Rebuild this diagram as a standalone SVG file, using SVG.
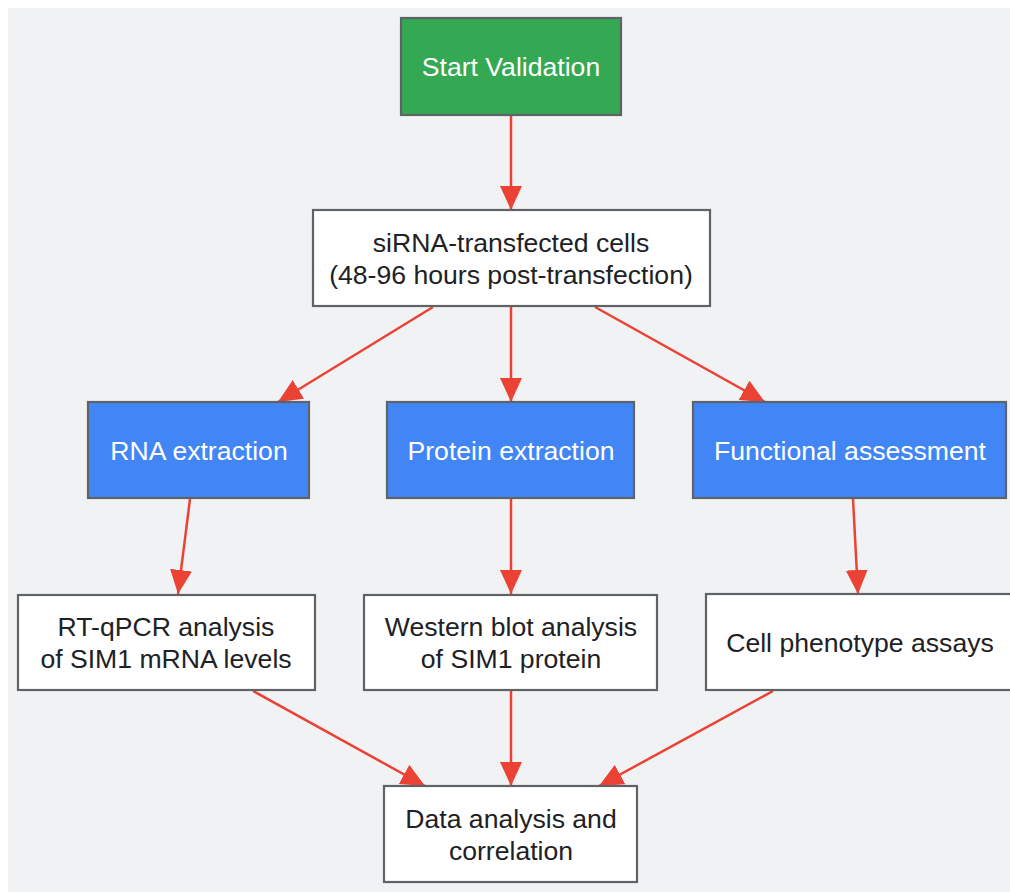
<svg xmlns="http://www.w3.org/2000/svg" width="1010" height="892" viewBox="0 0 1010 892">
<defs>
<style>
.bg{fill:#f1f2f4}
.node rect{stroke:#5f6368;stroke-width:2.2}
.green{fill:#34a853}
.blue{fill:#4285f4}
.white{fill:#ffffff}
text{font-family:"Liberation Sans",Arial,sans-serif;font-size:26.6px;text-anchor:middle}
.lt{fill:#ffffff}
.dk{fill:#202124}
.edge{stroke:#ea4335;stroke-width:2.5;fill:none;marker-end:url(#ah)}
</style>
<marker id="ah" markerUnits="userSpaceOnUse" markerWidth="24" markerHeight="22" refX="24" refY="11" orient="auto" viewBox="0 0 24 22">
<path d="M0,0 L24,11 L0,22 z" fill="#ea4335"/>
</marker>
</defs>
<rect x="0" y="0" width="1010" height="892" fill="#ffffff"/>
<rect class="bg" x="8" y="8" width="1002" height="884"/>
<g id="connectors">
<line class="edge" x1="511" y1="115" x2="511" y2="210"/>
<line class="edge" x1="433" y1="307" x2="278" y2="402"/>
<line class="edge" x1="511" y1="307" x2="511" y2="402"/>
<line class="edge" x1="595" y1="307" x2="765" y2="402"/>
<line class="edge" x1="190" y1="499" x2="178" y2="594"/>
<line class="edge" x1="511" y1="499" x2="511" y2="594"/>
<line class="edge" x1="853" y1="499" x2="858" y2="594"/>
<line class="edge" x1="253" y1="691" x2="425" y2="786"/>
<line class="edge" x1="511" y1="691" x2="511" y2="786"/>
<line class="edge" x1="773" y1="691" x2="599" y2="786"/>
</g>
<g id="start" class="node"><rect class="green" x="401" y="18" width="220" height="97"/><text class="lt" x="511" y="76">Start Validation</text></g>
<g id="cells" class="node"><rect class="white" x="313" y="210" width="397" height="96"/><text class="dk" x="511" y="252">siRNA-transfected cells</text><text class="dk" x="511" y="284">(48-96 hours post-transfection)</text></g>
<g id="rna" class="node"><rect class="blue" x="88" y="402" width="221" height="96"/><text class="lt" x="199" y="460">RNA extraction</text></g>
<g id="protein" class="node"><rect class="blue" x="387" y="402" width="247" height="96"/><text class="lt" x="511" y="460">Protein extraction</text></g>
<g id="functional" class="node"><rect class="blue" x="693" y="402" width="313" height="96"/><text class="lt" x="850" y="460">Functional assessment</text></g>
<g id="rtqpcr" class="node"><rect class="white" x="18" y="595" width="297" height="95"/><text class="dk" x="166" y="636">RT-qPCR analysis</text><text class="dk" x="166" y="668">of SIM1 mRNA levels</text></g>
<g id="western" class="node"><rect class="white" x="364" y="595" width="293" height="95"/><text class="dk" x="511" y="636">Western blot analysis</text><text class="dk" x="511" y="668">of SIM1 protein</text></g>
<g id="phenotype" class="node"><rect class="white" x="706" y="594" width="308" height="96"/><text class="dk" x="860" y="652">Cell phenotype assays</text></g>
<g id="data" class="node"><rect class="white" x="384" y="786" width="253" height="96"/><text class="dk" x="511" y="828">Data analysis and</text><text class="dk" x="511" y="860">correlation</text></g>
</svg>
